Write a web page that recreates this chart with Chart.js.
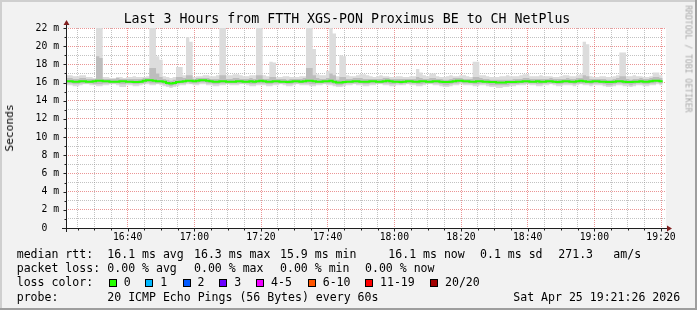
<!DOCTYPE html>
<html>
<head>
<meta charset="utf-8">
<script src="https://cdn.jsdelivr.net/npm/chart.js@4.4.1/dist/chart.umd.min.js"></script>
<style>
  html, body { margin: 0; padding: 0; background: #f2f2f2; }
  #wrap { position: relative; width: 697px; height: 310px; overflow: hidden;
          font-family: 'DejaVu Sans Mono', monospace; color: #000; }
  #wrap canvas { position: absolute; left: 0; top: 0; }
  .txt { position: absolute; white-space: pre; font-size: 11.55px; line-height: 14px; }
  .box { position: absolute; width: 6px; height: 6px; border: 1px solid #000; }
  #title { position: absolute; left: 0; width: 694px; top: 11px; text-align: center;
           font-size: 13.25px; line-height: 16px; white-space: pre; }
  #ylabel { position: absolute; left: 10px; top: 128px; font-size: 11.2px; line-height: 12px;
            transform: translate(-50%, -50%) rotate(-90deg); white-space: pre; }
  #mark { position: absolute; left: 688px; top: 59px; font-size: 8.1px; line-height: 9px; color: #a8a8a8;
          transform: translate(-50%, -50%) rotate(90deg); white-space: pre; }
</style>
</head>
<body>
<div id="wrap">
  <canvas id="chart" width="697" height="310"></canvas>
  <div id="title">Last 3 Hours from FTTH XGS-PON Proximus BE to CH NetPlus</div>
  <div id="ylabel">Seconds</div>
  <div id="mark">RRDTOOL / TOBI OETIKER</div>
  <div id="legend"></div>
</div>
<script>
// one sample per minute, first one starts 16:21:30 (minutes after 16:00)
const firstMinute = 21.5;

// median rtt (ms)
const median = [
  16.15,16.15,16.1,16.1,16.15,16.15,16.1,16.1,16.15,16.2, 16.2,16.15,16.15,16.1,16.1,16.1,16.15,16.15,16.1,16.1,
  16.05,16.05,16.1,16.2,16.25,16.25,16.2,16.15,16.15,16.1, 15.95,15.9,15.95,16.05,16.1,16.15,16.2,16.2,16.15,16.2,
  16.25,16.25,16.2,16.15,16.1,16.1,16.15,16.15,16.1,16.1, 16.1,16.15,16.15,16.1,16.1,16.15,16.1,16.15,16.2,16.15,
  16.1,16.1,16.15,16.15,16.1,16.1,16.05,16.1,16.15,16.15, 16.1,16.15,16.2,16.2,16.15,16.1,16.1,16.15,16.15,16.2,
  16.1,16.0,16.0,16.05,16.1,16.1,16.15,16.15,16.1,16.1, 16.1,16.15,16.15,16.1,16.1,16.15,16.2,16.15,16.1,16.1,
  16.05,16.1,16.15,16.15,16.1,16.1,16.15,16.15,16.1,16.1, 16.15,16.15,16.1,16.05,16.05,16.1,16.15,16.2,16.2,16.15,
  16.15,16.1,16.1,16.15,16.15,16.1,16.1,16.05,16.05,16.0, 16.0,16.0,16.05,16.05,16.05,16.1,16.1,16.15,16.15,16.1,
  16.1,16.15,16.1,16.1,16.15,16.15,16.1,16.05,16.1,16.15, 16.15,16.1,16.1,16.15,16.2,16.15,16.1,16.1,16.15,16.15,
  16.1,16.1,16.05,16.05,16.1,16.15,16.15,16.1,16.05,16.05, 16.1,16.1,16.15,16.1,16.1,16.15,16.2,16.2,16.15,16.15
];

// smoke: fastest and slowest ping of each round (ms)
const smokeLow = [
  15.7,15.7,15.6,15.6,15.7,15.8,15.8,15.7,15.7,15.6, 15.6,15.7,15.7,15.8,15.8,15.7,15.5,15.5,15.7,15.7,
  15.6,15.6,15.7,15.8,15.8,15.7,15.7,15.8,15.7,15.6, 15.5,15.4,15.5,15.6,15.7,15.7,15.8,15.8,15.7,15.7,
  15.8,15.8,15.7,15.7,15.6,15.6,15.7,15.7,15.8,15.7, 15.7,15.7,15.8,15.8,15.7,15.6,15.6,15.7,15.7,15.7,
  15.6,15.6,15.7,15.7,15.8,15.7,15.6,15.6,15.7,15.8, 15.7,15.7,15.7,15.6,15.6,15.7,15.7,15.8,15.7,15.7,
  15.6,15.5,15.5,15.6,15.7,15.7,15.8,15.7,15.7,15.6, 15.6,15.7,15.7,15.8,15.8,15.7,15.7,15.6,15.6,15.7,
  15.7,15.7,15.8,15.7,15.7,15.6,15.6,15.7,15.8,15.8, 15.7,15.7,15.6,15.5,15.5,15.6,15.7,15.7,15.8,15.7,
  15.7,15.7,15.6,15.6,15.7,15.7,15.6,15.5,15.5,15.4, 15.4,15.5,15.5,15.6,15.6,15.7,15.7,15.7,15.8,15.7,
  15.7,15.6,15.6,15.7,15.7,15.8,15.7,15.6,15.6,15.7, 15.7,15.7,15.6,15.7,15.8,15.7,15.7,15.6,15.7,15.7,
  15.7,15.6,15.5,15.5,15.6,15.7,15.7,15.6,15.6,15.5, 15.6,15.7,15.7,15.6,15.6,15.7,15.7,15.8,15.7,15.7
];
const smokeHigh = [
  16.8,16.8,16.7,16.7,16.8,16.8,16.6,16.6,16.5,22.0, 22.0,16.6,16.6,16.5,16.5,16.6,16.6,16.5,16.6,16.6,
  16.7,16.6,16.6,16.6,16.7,22.0,22.0,18.9,18.5,16.7, 16.6,16.5,16.6,17.7,17.7,16.8,21.0,20.5,16.6,16.7,
  16.7,16.8,16.8,16.7,16.7,16.8,22.0,22.0,16.8,16.8, 16.9,16.9,16.8,16.7,16.7,16.8,16.8,22.0,22.0,16.8,
  16.7,18.3,18.2,16.6,16.6,16.7,16.7,16.6,16.6,16.6, 16.7,16.7,22.0,22.0,19.7,16.9,16.8,16.8,17.3,22.0,
  21.4,16.7,19.0,18.9,16.8,16.7,16.7,16.8,16.9,16.9, 16.8,16.7,16.6,16.7,16.8,16.7,16.7,16.6,16.6,16.7,
  16.7,16.6,16.6,16.7,16.7,17.5,17.1,16.8,16.7,17.0, 17.0,16.7,16.6,16.6,16.7,16.8,16.7,16.7,16.8,16.8,
  16.7,16.6,18.3,18.3,16.8,16.8,16.7,16.6,16.6,16.6, 16.7,16.7,16.8,16.7,16.7,16.7,16.8,16.9,16.9,16.7,
  16.7,16.7,16.8,16.7,16.7,16.7,16.6,16.6,16.7,16.8, 16.8,16.7,16.7,16.8,16.9,20.5,20.2,16.7,16.6,16.6,
  16.7,16.7,16.6,16.6,16.7,16.8,19.3,19.3,16.7,16.7, 16.8,16.7,16.7,16.6,16.6,16.7,17.1,17.1,16.8,16.8
];
// denser inner smoke (ms)
const innerLow = [
  15.9,15.9,15.8,15.8,15.9,15.9,15.9,15.9,15.8,15.8, 15.8,15.9,15.9,15.9,15.9,15.9,15.8,15.8,15.9,15.9,
  15.8,15.8,15.9,15.9,16.0,15.9,15.9,15.9,15.9,15.8, 15.7,15.6,15.7,15.8,15.9,15.9,16.0,15.9,15.9,15.9,
  16.0,16.0,15.9,15.9,15.8,15.8,15.9,15.9,15.9,15.9, 15.9,15.9,15.9,15.9,15.9,15.8,15.8,15.9,15.9,15.9,
  15.8,15.8,15.9,15.9,15.9,15.9,15.8,15.8,15.9,15.9, 15.9,15.9,15.9,15.8,15.8,15.9,15.9,15.9,15.9,15.9,
  15.8,15.7,15.7,15.8,15.9,15.9,15.9,15.9,15.9,15.8, 15.8,15.9,15.9,15.9,15.9,15.9,15.9,15.8,15.8,15.9,
  15.8,15.9,15.9,15.9,15.9,15.8,15.8,15.9,15.9,15.9, 15.9,15.9,15.8,15.7,15.7,15.8,15.9,15.9,16.0,15.9,
  15.9,15.9,15.8,15.8,15.9,15.9,15.8,15.7,15.7,15.7, 15.7,15.7,15.7,15.8,15.8,15.8,15.9,15.9,15.9,15.9,
  15.9,15.8,15.8,15.9,15.9,15.9,15.9,15.8,15.8,15.9, 15.9,15.9,15.8,15.9,15.9,15.9,15.9,15.8,15.9,15.9,
  15.9,15.8,15.7,15.7,15.8,15.9,15.9,15.8,15.8,15.7, 15.8,15.9,15.9,15.8,15.8,15.9,15.9,16.0,15.9,15.9
];
const innerHigh = [
  16.5,16.5,16.4,16.4,16.5,16.5,16.4,16.4,16.4,18.9, 18.7,16.4,16.4,16.4,16.4,16.5,16.4,16.4,16.4,16.4,
  16.4,16.4,16.4,16.5,16.5,17.6,17.6,17.0,16.6,16.4, 16.3,16.2,16.3,16.6,16.6,16.5,16.8,16.8,16.4,16.5,
  16.5,16.5,16.5,16.4,16.4,16.4,16.8,16.8,16.4,16.4, 16.5,16.5,16.4,16.4,16.4,16.5,16.4,16.8,16.8,16.4,
  16.4,16.6,16.6,16.4,16.4,16.4,16.3,16.4,16.4,16.4, 16.4,16.5,17.6,17.6,16.8,16.5,16.4,16.4,16.5,17.0,
  16.8,16.3,16.6,16.6,16.4,16.4,16.5,16.5,16.5,16.4, 16.4,16.4,16.4,16.4,16.4,16.5,16.5,16.4,16.4,16.4,
  16.4,16.4,16.4,16.4,16.4,16.6,16.5,16.4,16.4,16.5, 16.5,16.4,16.4,16.3,16.3,16.4,16.5,16.5,16.5,16.4,
  16.4,16.4,16.6,16.6,16.5,16.4,16.4,16.3,16.3,16.3, 16.3,16.3,16.3,16.3,16.4,16.4,16.4,16.5,16.5,16.4,
  16.4,16.4,16.4,16.4,16.4,16.5,16.4,16.4,16.4,16.4, 16.5,16.4,16.4,16.5,16.5,16.8,16.7,16.4,16.4,16.4,
  16.4,16.4,16.3,16.3,16.4,16.5,16.7,16.7,16.4,16.3, 16.4,16.4,16.5,16.4,16.4,16.5,16.6,16.6,16.5,16.5
];

// axis ticks
const xGridMinutes = [25,30,35,40,45,50,55,60,65,70,75,80,85,90,95,100,105,110,115,120,
  125,130,135,140,145,150,155,160,165,170,175,180,185,190,195,200];
const xTickMinutes = [40, 60, 80, 100, 120, 140, 160, 180, 200];
const xTickLabels = ['16:40', '17:00', '17:20', '17:40', '18:00', '18:20', '18:40', '19:00', '19:20'];
const yTickLabels = ['0  ', '2 m', '4 m', '6 m', '8 m', '10 m', '12 m', '14 m', '16 m', '18 m', '20 m', '22 m'];

// legend
const statsRows = [
  [[16.7, 'median rtt:'], [107.3, '16.1 ms avg'], [194, '16.3 ms max'], [280, '15.9 ms min'],
   [388.3, '16.1 ms now'], [480, '0.1 ms sd'], [558.3, '271.3'], [613.3, 'am/s']],
  [[16.7, 'packet loss:'], [107.3, '0.00 % avg'], [194, '0.00 % max'], [280, '0.00 % min'], [365, '0.00 % now']],
  [[16.7, 'loss color:']],
  [[16.7, 'probe:'], [107.3, '20 ICMP Echo Pings (56 Bytes) every 60s'], [513.3, 'Sat Apr 25 19:21:26 2026']]
];
const statsRowY = [254.3, 268.3, 281.7, 296.7];
const lossLabels = ['0', '1', '2', '3', '4-5', '6-10', '11-19', '20/20'];
const lossColors = ['#26ff00', '#00b8ff', '#0059ff', '#6a00ff', '#f000ff', '#ff5500', '#ff0000', '#a10000'];
const lossBoxX = [108.7, 145.3, 182.5, 219.3, 256, 307.7, 365, 430];

function points(values) {
  return values.map((v, i) => ({ x: firstMinute + i, y: v }));
}

function buildLegend() {
  const legend = document.getElementById('legend');
  statsRows.forEach((row, r) => {
    row.forEach(([x, text]) => {
      const span = document.createElement('div');
      span.className = 'txt';
      span.style.left = x + 'px';
      span.style.top = (statsRowY[r] - 7) + 'px';
      span.textContent = text;
      legend.appendChild(span);
    });
  });
  lossLabels.forEach((label, i) => {
    const box = document.createElement('div');
    box.className = 'box';
    box.style.left = lossBoxX[i] + 'px';
    box.style.top = '279px';
    box.style.background = lossColors[i];
    legend.appendChild(box);
    const span = document.createElement('div');
    span.className = 'txt';
    span.style.left = (lossBoxX[i] + 15) + 'px';
    span.style.top = (statsRowY[2] - 7) + 'px';
    span.textContent = label;
    legend.appendChild(span);
  });
}

// rrdtool style frame, canvas and axes with arrows
const rrdFrame = {
  id: 'rrdFrame',
  beforeDraw(chart) {
    const { ctx, chartArea: a } = chart;
    ctx.save();
    ctx.fillStyle = '#f2f2f2';
    ctx.fillRect(0, 0, chart.width, chart.height);
    ctx.fillStyle = '#cfcfcf';
    ctx.fillRect(0, 0, chart.width, 2);
    ctx.fillRect(0, 0, 2, chart.height);
    ctx.fillStyle = '#9e9e9e';
    ctx.fillRect(0, chart.height - 2, chart.width, 2);
    ctx.fillRect(chart.width - 2, 0, 2, chart.height);
    ctx.fillStyle = '#ffffff';
    ctx.fillRect(a.left, a.top, a.right - a.left, a.bottom - a.top);
    ctx.restore();
  },
  afterDatasetsDraw(chart) {
    const { ctx, chartArea: a, scales } = chart;
    const y0 = Math.round(a.bottom) + 0.5;
    const x0 = Math.round(a.left) + 0.5;
    ctx.save();
    ctx.strokeStyle = '#1f1f1f';
    ctx.lineWidth = 1;
    ctx.beginPath();
    ctx.moveTo(a.left - 4, y0);
    ctx.lineTo(a.right + 2, y0);
    ctx.moveTo(x0, a.bottom + 4);
    ctx.lineTo(x0, a.top - 4);
    xGridMinutes.forEach((m) => {
      const px = Math.round(scales.x.getPixelForValue(m)) + 0.5;
      ctx.moveTo(px, y0 + 0.5);
      ctx.lineTo(px, y0 + (xTickMinutes.includes(m) ? 3 : 2));
    });
    for (let v = 1; v <= 22; v++) {
      const py = Math.round(scales.y.getPixelForValue(v)) + 0.5;
      ctx.moveTo(x0 - 0.5, py);
      ctx.lineTo(x0 - (v % 2 ? 2 : 3), py);
    }
    ctx.stroke();
    ctx.fillStyle = '#801f1f';
    ctx.beginPath();
    ctx.moveTo(a.right + 6, y0);
    ctx.lineTo(a.right + 1, y0 - 3);
    ctx.lineTo(a.right + 1, y0 + 3);
    ctx.closePath();
    ctx.moveTo(x0, a.top - 8);
    ctx.lineTo(x0 - 3, a.top - 3);
    ctx.lineTo(x0 + 3, a.top - 3);
    ctx.closePath();
    ctx.fill();
    ctx.restore();
  }
};

const area = { pointRadius: 0, borderWidth: 0, stepped: true, clip: 0, borderColor: 'transparent' };

// Chart.js paints the last dataset first, so the median comes first to end on top
new Chart(document.getElementById('chart'), {
  type: 'line',
  data: {
    datasets: [
      { data: points(median), pointRadius: 0, borderWidth: 2, stepped: true, borderColor: '#26ff00', fill: false },
      { ...area, data: points(innerHigh), fill: { target: 2 }, backgroundColor: '#bdbdbd' },
      { ...area, data: points(innerLow), fill: false, backgroundColor: 'transparent' },
      { ...area, data: points(smokeHigh), fill: { target: 4 }, backgroundColor: '#dcdcdc' },
      { ...area, data: points(smokeLow), fill: false, backgroundColor: 'transparent' }
    ]
  },
  options: {
    responsive: false,
    animation: false,
    devicePixelRatio: 1,
    events: [],
    layout: { padding: { left: 0, top: 28, right: 31, bottom: 62 } },
    plugins: { legend: { display: false }, tooltip: { enabled: false }, title: { display: false } },
    scales: {
      x: {
        type: 'linear',
        min: firstMinute,
        max: firstMinute + 180,
        afterFit(scale) { scale.height = 20; },
        afterBuildTicks(scale) { scale.ticks = xGridMinutes.map((value) => ({ value })); },
        ticks: {
          autoSkip: false,
          maxRotation: 0,
          padding: 4,
          color: '#000',
          font: { family: 'DejaVu Sans Mono', size: 9.75 },
          callback(value) {
            const k = xTickMinutes.indexOf(value);
            return k >= 0 ? xTickLabels[k] : '';
          }
        },
        grid: {
          drawTicks: false,
          lineWidth: 1,
          color: (c) => (xTickMinutes.includes(c.tick?.value) ? 'rgba(222,79,79,0.6)' : 'rgba(143,143,143,0.55)')
        },
        border: { display: false, dash: [1, 1] }
      },
      y: {
        type: 'linear',
        min: 0,
        max: 22,
        afterFit(scale) { scale.width = 66; },
        afterBuildTicks(scale) {
          scale.ticks = yTickLabels.flatMap((_, k) => [{ value: 2 * k }, { value: 2 * k + 1 }]).filter((t) => t.value <= 22);
        },
        ticks: {
          autoSkip: false,
          padding: 7,
          color: '#000',
          font: { family: 'DejaVu Sans Mono', size: 9.75 },
          callback(value) { return value % 2 === 0 ? yTickLabels[value / 2] : ''; }
        },
        grid: {
          drawTicks: false,
          lineWidth: 1,
          color: (c) => (c.tick && c.tick.value % 2 === 0 ? 'rgba(222,79,79,0.6)' : 'rgba(143,143,143,0.55)')
        },
        border: { display: false, dash: [1, 1] }
      }
    }
  },
  plugins: [rrdFrame]
});

buildLegend();
</script>
</body>
</html>
